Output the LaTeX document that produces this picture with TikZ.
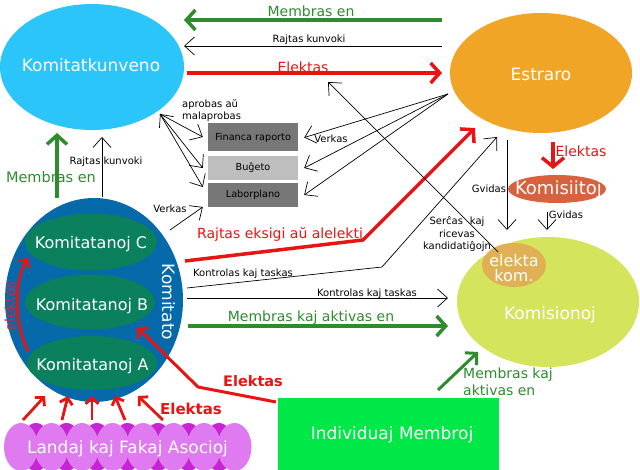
\documentclass[tikz,border=0pt]{standalone}
\usepackage{fontspec}
\setmainfont{DejaVu Sans}
\usetikzlibrary{shapes.geometric,arrows.meta}
\definecolor{kkblue}{RGB}{43,197,250}
\definecolor{esorange}{RGB}{240,165,38}
\definecolor{komblue}{RGB}{5,105,170}
\definecolor{kagreen}{RGB}{10,128,92}
\definecolor{ksyellow}{RGB}{212,228,92}
\definecolor{ekorange}{RGB}{226,176,84}
\definecolor{kiorange}{RGB}{216,98,62}
\definecolor{imgreen}{RGB}{0,232,72}
\definecolor{dgray}{RGB}{119,119,119}
\definecolor{lgray}{RGB}{190,190,190}
\definecolor{arrgreen}{RGB}{46,140,46}
\definecolor{arrred}{RGB}{232,20,20}
\definecolor{elred}{RGB}{205,40,60}
\definecolor{plight}{RGB}{224,122,240}
\definecolor{pdark}{RGB}{198,36,212}
\begin{document}
\begin{tikzpicture}[x=1pt,y=-1pt,
  ell/.style={ellipse, draw=none, inner sep=0pt, outer sep=0pt},
  wtxt/.style={text=white, inner sep=0pt, font=\fontsize{17}{17}\selectfont},
  stxt/.style={inner sep=0pt, font=\fontsize{10}{12.5}\selectfont},
  mtxt/.style={inner sep=0pt, font=\fontsize{14}{17}\selectfont},
  boxnode/.style={minimum width=90pt, inner sep=0pt, font=\fontsize{9.7}{11}\selectfont},
  thinarr/.style={line width=0.7pt, -{Straight Barb[length=10pt,width=18pt]}},
  garr/.style={draw=arrgreen, line width=3.5pt, -{Straight Barb[length=9pt,width=20pt]}},
  rarr/.style={draw=arrred, line width=3.5pt, line join=round, -{Straight Barb[length=9pt,width=20pt]}},
  rsmall/.style={draw=arrred, line width=2.8pt, line join=round, -{Straight Barb[length=6pt,width=13pt]}},
]
\fill[white] (0,0) rectangle (640,470);
\useasboundingbox (0,0) rectangle (640,470);

% shapes
\node[ell, fill=kkblue, minimum width=184pt, minimum height=126pt] (kk) at (92,67) {};
\node[ell, fill=esorange, minimum width=182pt, minimum height=120pt] (es) at (541,73) {};
\node[ell, fill=komblue, minimum width=178pt, minimum height=204pt] (kom) at (94,300) {};
\node[ell, fill=kagreen, minimum width=132pt, minimum height=57pt] (kc) at (91,242) {};
\node[ell, fill=kagreen, minimum width=130pt, minimum height=55pt] (kb) at (90,302) {};
\node[ell, fill=kagreen, minimum width=130pt, minimum height=54pt] (ka) at (92,363) {};
\node[ell, fill=ksyellow, minimum width=182pt, minimum height=130pt] (ks) at (548,302) {};
\node[ell, fill=ekorange, minimum width=64pt, minimum height=44pt] (ek) at (514,265) {};
\node[ell, fill=kiorange, minimum width=98pt, minimum height=28pt] (ki) at (557,189) {};
\node[fill=imgreen, minimum width=221pt, minimum height=74pt, inner sep=0pt] (im) at (388.5,435) {};
\foreach \i in {0,...,6} \node[ell, fill=pdark, minimum width=30pt, minimum height=48pt] (pd\i) at (36+30.5*\i,447) {};
\foreach \i in {0,...,7} \node[ell, fill=plight, minimum width=34pt, minimum height=48pt] (pl\i) at (21+30.5*\i,447) {};

\node[boxnode, fill=dgray, minimum height=28pt] (fin) at (253,137.5) {Financa raporto};
\node[boxnode, fill=lgray, minimum height=24pt] (bud) at (253,168) {Buĝeto};
\node[boxnode, fill=dgray, minimum height=24pt] (lab) at (253,195) {Laborplano};

% shape texts
\node[wtxt] (tkk) at (91,65.5) {Komitatkunveno};
\node[wtxt] (tes) at (541,74) {Estraro};
\node[wtxt, font=\fontsize{16}{16}\selectfont] (tkc) at (91,244) {Komitatanoj C};
\node[wtxt, font=\fontsize{16}{16}\selectfont] (tkb) at (92,306) {Komitatanoj B};
\node[wtxt, font=\fontsize{16}{16}\selectfont] (tka) at (92.5,366) {Komitatanoj A};
\node[wtxt, rotate=-90] (tkom) at (168.5,302) {Komitato};
\node[wtxt] (tks) at (550,314.5) {Komisionoj};
\node[wtxt, font=\fontsize{16}{15}\selectfont, align=center, anchor=north] (tek) at (514,254) {elekta\\kom.};
\node[wtxt, font=\fontsize{18}{18}\selectfont] (tki) at (558.5,190) {Komisiitoj};
\node[wtxt] (tim) at (392,434.5) {Individuaj Membroj};
\node[wtxt] (tas) at (127.5,448.5) {Landaj kaj Fakaj Asocioj};

% named free ends
\coordinate (kkp) at (160,114);
\coordinate (esp) at (448,94);
\coordinate (komp) at (170,230);
\coordinate (rr1) at (185,261);
\coordinate (rr2) at (363,240);
\coordinate (rr3) at (475,128);
\coordinate (kt1) at (187,288);
\coordinate (kt2) at (382,267);
\coordinate (kt3) at (497,137);
\coordinate (sc1) at (498,252);
\coordinate (sc2) at (328,82);
\coordinate (ima) at (438,390);
\coordinate (imb) at (478,352);
\coordinate (ie1) at (276,402);
\coordinate (ie2) at (198,387);
\coordinate (ie3) at (137,327);
\coordinate (el1) at (28,351);
\coordinate (el2) at (28,258);

% connectors
\draw[garr, shorten <=8pt] (es.west |- 0,20) -- (kk.east |- 0,20);
\draw[thinarr, shorten <=8pt] (es.west |- 0,46) -- (kk.east |- 0,46);
\draw[rarr, shorten <=3pt, shorten >=8pt] (kk.east |- 0,73) -- (es.west |- 0,73);

\draw[line width=0.7pt, {Straight Barb[length=10pt,width=18pt]}-{Straight Barb[length=10pt,width=18pt]}] (kkp) -- ([xshift=-5pt]bud.west);
\draw[thinarr] (kkp) -- ([xshift=-5pt,yshift=0.5pt]fin.west);
\draw[thinarr] (kkp) -- ([xshift=-5pt,yshift=8pt]lab.west);
\draw[thinarr] (komp) -- ([xshift=-5pt,yshift=-12pt]lab.west);

\draw[thinarr] (esp) -- ([xshift=6pt]fin.east);
\draw[thinarr] (esp) -- ([xshift=6pt]bud.east);
\draw[thinarr] (esp) -- ([xshift=6pt]lab.east);

\draw[garr, shorten >=3pt] (kom.north -| 57,0) -- (kk.south -| 57,0);
\draw[thinarr, shorten <=1pt, shorten >=7pt] (kom.north -| 102,0) -- (kk.south -| 102,0);

\draw[rarr] (rr1) -- (rr2) -- (rr3);
\draw[thinarr] (kt1) -- (kt2) -- (kt3);
\draw[thinarr, shorten <=4pt, shorten >=9pt] (kom.east |- 0,298) -- (ks.west |- 0,298);
\draw[garr, shorten <=5pt, shorten >=9pt] (kom.east |- 0,326) -- (ks.west |- 0,326);

\draw[rarr, shorten <=9pt, shorten >=6pt, -{Straight Barb[length=9pt,width=22pt]}] (es.south -| 553,0) -- (ki.north -| 553,0);
\draw[thinarr, shorten <=7pt, shorten >=7pt] (es.south -| 507,0) -- (ks.north -| 507,0);
\draw[thinarr, shorten <=9pt, shorten >=7pt] (ki.south -| 547,0) -- (ks.north -| 547,0);

\draw[thinarr] (sc1) -- (sc2);
\draw[garr, line width=3pt, -{Straight Barb[length=8pt,width=17pt]}] (ima) -- (imb);
\draw[rarr, line width=3pt, -{Straight Barb[length=7pt,width=15pt]}] (ie1) -- (ie2) -- (ie3);

\foreach \sx/\ex [count=\n] in {23/45, 62/68, 92/92, 125/115, 163/138} {
  \coordinate (asf\n) at (\sx,420);
  \coordinate (ast\n) at (\ex,396);
  \draw[rsmall] (asf\n) -- (ast\n);
}
\draw[rsmall] (el1) .. controls (14,325) and (14,280) .. (el2);

% labels
\node[mtxt, text=arrgreen] (lme1) at (311,11) {Membras en};
\node[stxt] (lrk1) at (309,40) {Rajtas kunvoki};
\node[mtxt, text=arrred] (lel1) at (303,67) {Elektas};
\node[stxt, align=left, anchor=north west] (lap) at (182,99) {aprobas aŭ\\malaprobas};
\node[stxt] (lve1) at (331,139) {Verkas};
\node[stxt] (lve2) at (170,209) {Verkas};
\node[mtxt, text=arrgreen, font=\fontsize{14.5}{17}\selectfont] (lme2) at (51,177) {Membras en};
\node[stxt] (lrk2) at (106,162) {Rajtas kunvoki};
\node[mtxt, text=arrred] (lre) at (280,234) {Rajtas eksigi aŭ alelekti};
\node[stxt] (lkt1) at (243,274) {Kontrolas kaj taskas};
\node[stxt] (lkt2) at (367,294) {Kontrolas kaj taskas};
\node[mtxt, text=arrgreen] (lma) at (311,318) {Membras kaj aktivas en};
\node[mtxt, text=arrred] (lel2) at (581,151) {Elektas};
\node[stxt] (lgv1) at (489,189) {Gvidas};
\node[stxt] (lgv2) at (566,215) {Gvidas};
\node[stxt, align=center, anchor=north] (lsc) at (457,216.5) {Serĉas\hspace{7pt}kaj\\ricevas\\kandidatiĝojn};
\node[mtxt, text=arrgreen, align=left, anchor=north west] (lma2) at (463,368) {Membras kaj\\aktivas en};
\node[mtxt, text=arrred, font={\fontsize{14.5}{17}\selectfont\bfseries}] (lel3) at (253,381) {Elektas};
\node[mtxt, text=arrred, font={\fontsize{15}{17}\selectfont\bfseries}] (lel4) at (191,409) {Elektas};
\node[mtxt, text=elred, rotate=90] (lel5) at (10,306) {elektas};
\end{tikzpicture}
\end{document}
